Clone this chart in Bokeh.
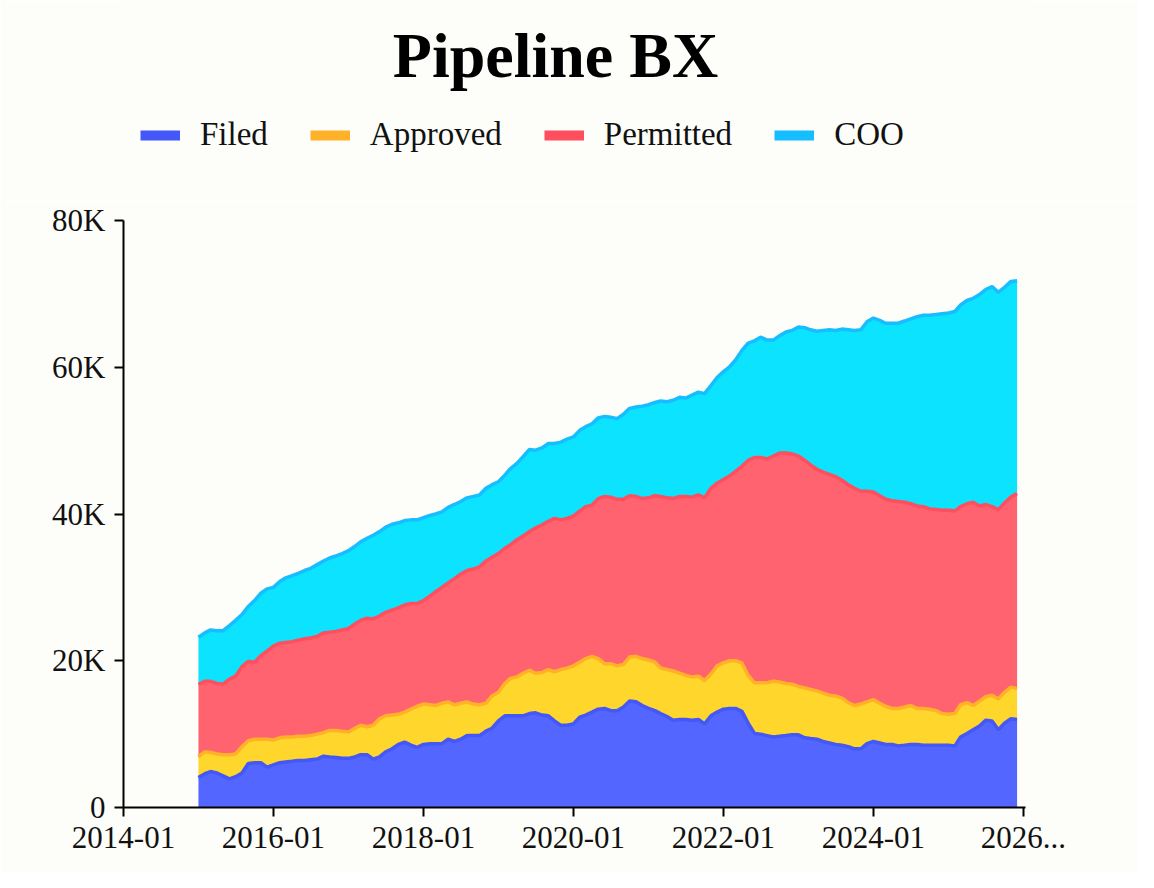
import math
import pandas as pd
from bokeh.plotting import figure
from bokeh.layouts import column
from bokeh.models import (ColumnDataSource, Legend, LegendItem, FixedTicker,
                          Range1d, Label)
from bokeh.embed import file_html
from bokeh.resources import INLINE

# ---------------- data (values in thousands) ----------------
months = pd.date_range("2015-01-01", periods=132, freq="MS")
series_names = ["Filed", "Approved", "Permitted", "COO"]

filed_k = [
    4.1, 4.6, 4.9, 4.7, 4.3, 3.9, 4.2, 4.7, 6.0, 6.1, 6.1, 5.5,
    5.8, 6.1, 6.2, 6.3, 6.4, 6.4, 6.5, 6.6, 7.0, 6.9, 6.8, 6.7,
    6.7, 6.9, 7.2, 7.2, 6.6, 6.9, 7.6, 8.0, 8.6, 8.9, 8.5, 8.2,
    8.6, 8.7, 8.7, 8.7, 9.3, 9.0, 9.3, 9.8, 9.8, 9.8, 10.4, 10.8,
    11.8, 12.5, 12.5, 12.5, 12.5, 12.8, 12.9, 12.6, 12.5, 11.8, 11.2, 11.2,
    11.4, 12.3, 12.6, 13.0, 13.4, 13.5, 13.2, 13.2, 13.7, 14.5, 14.4, 13.9,
    13.5, 13.2, 12.8, 12.4, 11.9, 12.0, 12.0, 11.9, 12.0, 11.4, 12.5, 13.0,
    13.4, 13.5, 13.5, 13.1, 11.5, 10.1, 10.0, 9.8, 9.6, 9.7, 9.8, 9.9,
    9.9, 9.5, 9.4, 9.3, 9.0, 8.8, 8.6, 8.5, 8.3, 8.0, 8.0, 8.7,
    9.0, 8.8, 8.6, 8.6, 8.4, 8.5, 8.6, 8.6, 8.5, 8.5, 8.5, 8.5,
    8.5, 8.4, 9.6, 10.1, 10.6, 11.1, 11.9, 11.8, 10.6, 11.5, 12.1, 12.0,
]
approved_k = [
    2.8, 3.0, 2.6, 2.6, 2.9, 3.3, 3.1, 3.6, 3.1, 3.2, 3.2, 3.8,
    3.4, 3.4, 3.4, 3.3, 3.3, 3.3, 3.3, 3.4, 3.2, 3.6, 3.7, 3.7,
    3.6, 3.9, 4.0, 3.8, 4.6, 5.2, 4.9, 4.6, 4.1, 4.1, 4.9, 5.6,
    5.5, 5.3, 5.2, 5.5, 5.1, 5.0, 4.9, 4.6, 4.3, 4.2, 3.8, 4.4,
    3.9, 4.4, 5.1, 5.3, 5.8, 5.9, 5.4, 5.8, 6.3, 6.7, 7.6, 7.8,
    7.9, 7.5, 7.7, 7.6, 6.9, 6.1, 6.4, 6.1, 5.8, 6.0, 6.2, 6.4,
    6.6, 6.6, 6.2, 6.4, 6.7, 6.3, 6.0, 5.9, 5.9, 5.9, 5.7, 6.3,
    6.3, 6.5, 6.5, 6.6, 6.5, 6.9, 7.0, 7.2, 7.6, 7.4, 7.1, 6.9,
    6.6, 6.8, 6.7, 6.6, 6.6, 6.5, 6.6, 6.4, 6.0, 5.9, 6.1, 5.7,
    5.7, 5.4, 5.2, 4.9, 5.1, 5.2, 5.3, 4.9, 5.0, 4.9, 4.7, 4.3,
    4.2, 4.4, 4.4, 4.2, 3.3, 3.4, 3.2, 3.5, 4.2, 4.2, 4.3, 4.2,
]
permitted_k = [
    9.9, 9.6, 9.7, 9.6, 9.6, 10.3, 10.6, 10.9, 10.8, 10.5, 11.4, 12.0,
    12.8, 12.9, 12.9, 13.0, 13.1, 13.3, 13.3, 13.3, 13.6, 13.4, 13.5, 13.8,
    14.1, 14.2, 14.3, 14.8, 14.5, 14.0, 14.1, 14.3, 14.5, 14.6, 14.4, 14.0,
    14.1, 14.8, 15.5, 15.8, 16.2, 17.2, 17.6, 17.9, 18.4, 18.8, 19.4, 18.9,
    18.9, 18.4, 18.2, 18.7, 18.7, 18.9, 19.8, 20.1, 20.2, 20.9, 20.4, 20.4,
    20.4, 20.6, 20.7, 20.6, 21.8, 22.8, 22.7, 22.7, 22.5, 22.0, 21.8, 21.8,
    22.1, 22.7, 23.4, 23.4, 23.5, 24.1, 24.4, 24.5, 24.7, 24.9, 25.3, 24.9,
    25.0, 25.2, 25.8, 26.8, 29.3, 30.7, 30.7, 30.5, 30.7, 31.2, 31.4, 31.4,
    31.4, 31.0, 30.6, 30.2, 30.1, 30.1, 29.9, 29.7, 29.7, 29.6, 29.0, 28.7,
    28.3, 28.3, 28.2, 28.3, 28.2, 27.9, 27.5, 27.6, 27.5, 27.3, 27.4, 27.7,
    27.8, 27.6, 27.0, 27.1, 27.7, 26.6, 26.2, 25.7, 25.8, 25.8, 25.9, 26.6,
]
coo_k = [
    6.4, 6.6, 7.0, 7.2, 7.3, 7.3, 7.6, 7.1, 7.5, 8.4, 8.5, 8.5,
    8.0, 8.4, 8.8, 9.0, 9.1, 9.3, 9.5, 9.8, 9.8, 10.1, 10.3, 10.4,
    10.6, 10.6, 10.7, 10.9, 11.4, 11.5, 11.6, 11.7, 11.6, 11.5, 11.4, 11.4,
    11.3, 11.0, 10.6, 10.3, 10.3, 10.1, 9.9, 9.9, 9.9, 9.8, 9.9, 9.9,
    9.8, 10.0, 10.4, 10.4, 10.8, 11.2, 10.6, 10.5, 10.6, 10.2, 10.6, 10.8,
    10.8, 11.0, 10.9, 11.1, 11.0, 10.9, 10.9, 11.0, 11.6, 11.9, 12.2, 12.6,
    12.7, 12.7, 13.0, 13.1, 13.4, 13.5, 13.4, 13.9, 14.0, 14.2, 14.0, 14.4,
    14.7, 14.9, 15.2, 15.8, 16.0, 15.9, 16.4, 16.2, 15.8, 16.0, 16.5, 16.8,
    17.6, 18.1, 18.4, 18.8, 19.3, 19.7, 19.9, 20.6, 21.1, 21.5, 22.0, 23.1,
    23.7, 23.9, 24.0, 24.2, 24.3, 24.7, 25.2, 25.8, 26.1, 26.4, 26.6, 26.8,
    26.9, 27.2, 27.5, 27.7, 27.8, 28.8, 29.3, 30.0, 29.6, 29.4, 29.4, 29.0,
]

x_tick_dates = ["2014-01-01", "2016-01-01", "2018-01-01", "2020-01-01",
                "2022-01-01", "2024-01-01", "2026-01-01"]
x_tick_labels = ["2014-01", "2016-01", "2018-01", "2020-01",
                 "2022-01", "2024-01", "2026..."]
y_ticks = [0, 20000, 40000, 60000, 80000]
y_tick_labels = ["0", "20K", "40K", "60K", "80K"]
title_text = "Pipeline BX"

# ---------------- styling ----------------
BG = "#fdfdf9"
FILL = ["#5366ff", "#ffd62b", "#ff636f", "#0ce3ff"]
LINE = ["#4457f7", "#ffb128", "#ff4f5e", "#17beff"]
FONT = "Liberation Serif"
BORDER_L, BORDER_R = 123, 113
FRAME_W, FRAME_H = 902, 587
HEAD_H = 200

data = {"date": months}
for name, vals in zip(series_names, [filed_k, approved_k, permitted_k, coo_k]):
    data[name] = [v * 1000 for v in vals]
source = ColumnDataSource(data)

# ---------------- header (title + legend) ----------------
# header frame shares the main frame's horizontal extent; its data units are pixels
head = figure(frame_width=FRAME_W, frame_height=HEAD_H,
              x_range=Range1d(BORDER_L, BORDER_L + FRAME_W),
              y_range=Range1d(0, HEAD_H),
              x_axis_location=None, y_axis_location=None,
              output_backend="svg", toolbar_location=None,
              background_fill_color=BG, border_fill_color=BG,
              outline_line_color=None,
              min_border_left=BORDER_L, min_border_right=BORDER_R,
              min_border_top=0, min_border_bottom=0)
head.grid.visible = False

head.add_layout(Label(x=555, y=HEAD_H - 55, text=title_text,
                      text_align="center", text_baseline="alphabetic",
                      text_font=FONT, text_font_size="64px",
                      text_font_style="bold", text_color="#000000"))

items = []
for name, col in zip(series_names, LINE):
    r = head.line(x=[BORDER_L], y=[math.nan], line_color=col, line_width=10)
    items.append(LegendItem(label=name, renderers=[r]))

# legend location = bottom-left corner of the legend box, from the frame's bottom-left
legend = Legend(items=items, orientation="horizontal",
                location=(140 - BORDER_L, HEAD_H - 153),
                label_text_font=FONT, label_text_font_size="33px",
                label_text_color="#111111",
                glyph_width=40, glyph_height=36, label_standoff=20,
                spacing=42, padding=0, margin=0,
                background_fill_alpha=0, border_line_alpha=0)
head.add_layout(legend)

# ---------------- main chart ----------------
p = figure(frame_width=FRAME_W, frame_height=FRAME_H, x_axis_type="datetime",
           x_range=Range1d(pd.Timestamp("2014-01-01"), pd.Timestamp("2026-01-11")),
           y_range=Range1d(0, 80000),
           output_backend="svg", toolbar_location=None,
           background_fill_color=BG, border_fill_color=BG,
           outline_line_color=None,
           min_border_left=BORDER_L, min_border_right=BORDER_R,
           min_border_bottom=65, min_border_top=20)

p.varea_stack(stackers=series_names, x="date", color=FILL, source=source)
p.vline_stack(stackers=series_names, x="date", color=LINE, line_width=3.5,
              source=source)

for ax in (p.xaxis[0], p.yaxis[0]):
    ax.axis_line_color = "#000000"
    ax.axis_line_width = 2
    ax.major_tick_line_color = "#000000"
    ax.major_tick_line_width = 2
    ax.major_tick_out = 9
    ax.major_tick_in = 0
    ax.minor_tick_line_color = None
    ax.major_label_text_font = FONT
    ax.major_label_text_font_size = "31px"
    ax.major_label_text_color = "#111111"
p.xaxis.major_label_standoff = 10
p.yaxis.major_label_standoff = 9

x_ticks_ms = [pd.Timestamp(d).value // 10**6 for d in x_tick_dates]
p.xaxis.ticker = FixedTicker(ticks=x_ticks_ms)
p.xaxis.major_label_overrides = {float(t): l for t, l in zip(x_ticks_ms, x_tick_labels)}
p.yaxis.ticker = FixedTicker(ticks=y_ticks)
p.yaxis.major_label_overrides = {t: l for t, l in zip(y_ticks, y_tick_labels)}
p.xgrid.grid_line_color = None
p.ygrid.grid_line_color = None

layout = column(head, p, spacing=0)
open("out.html", "w").write(file_html(layout, INLINE))
